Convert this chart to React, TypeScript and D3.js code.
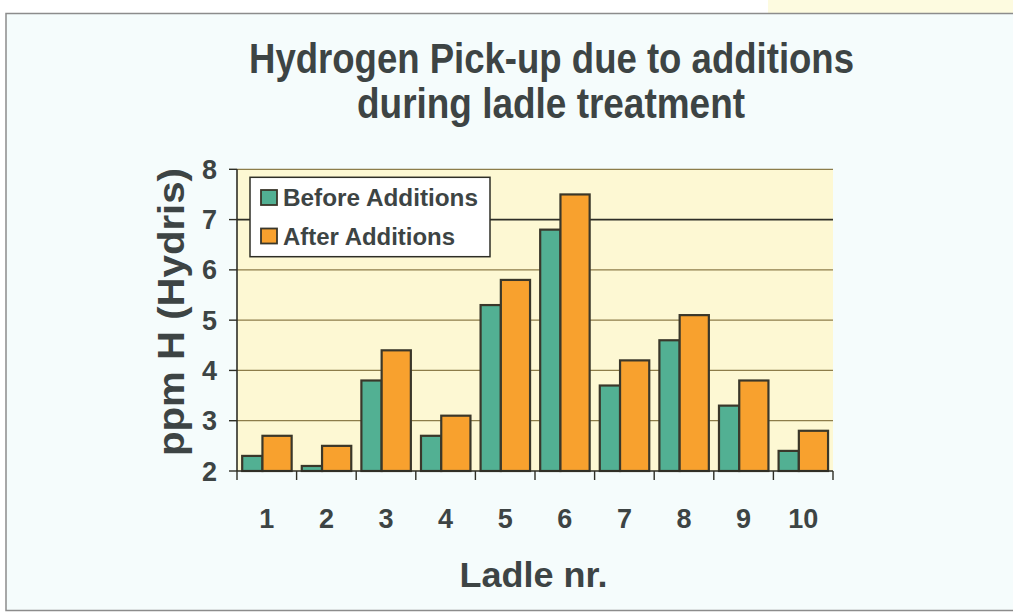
import React from "react";
import * as d3 from "d3";

const categories = ["1", "2", "3", "4", "5", "6", "7", "8", "9", "10"];
const beforeValues = [2.3, 2.1, 3.8, 2.7, 5.3, 6.8, 3.7, 4.6, 3.3, 2.4];
const afterValues = [2.7, 2.5, 4.4, 3.1, 5.8, 7.5, 4.2, 5.1, 3.8, 2.8];
const yTicks = [2, 3, 4, 5, 6, 7, 8];
const seriesNames = ["Before Additions", "After Additions"];
const titleLines = ["Hydrogen Pick-up due to additions", "during ladle treatment"];

const GREEN = "#52b093";
const ORANGE = "#f8a12e";
const TEXT = "#3d4444";
const EDGE = "#3a372a";

export default function App() {
  const x = d3.scaleBand<string>().domain(categories).range([237, 833]).padding(0);
  const y = d3.scaleLinear().domain([2, 8]).range([471, 169.3]);
  const bw = x.bandwidth();
  const font = "'Liberation Sans', Arial, sans-serif";

  return (
    <svg
      width={1013}
      height={612}
      style={{ position: "absolute", left: 0, top: 0, display: "block" }}
      fontFamily={font}
    >
      <rect x={0} y={0} width={1013} height={612} fill="#ffffff" />
      <rect x={768} y={0} width={245} height={13.5} fill="#fdfbe0" />
      <rect x={6} y={13.5} width={1020} height={597} fill="#f5fcfc" stroke="#8c8c8c" strokeWidth={1.5} />

      {/* title */}
      <text x={551.5} y={73} textAnchor="middle" fontSize={42} fontWeight="bold" fill={TEXT} textLength={605} lengthAdjust="spacingAndGlyphs">
        {titleLines[0]}
      </text>
      <text x={551} y={118} textAnchor="middle" fontSize={42} fontWeight="bold" fill={TEXT} textLength={388} lengthAdjust="spacingAndGlyphs">
        {titleLines[1]}
      </text>

      {/* plot area */}
      <rect x={x.range()[0]} y={y(8)} width={x.range()[1] - x.range()[0]} height={y(2) - y(8)} fill="#fdf8d3" />
      {yTicks.filter((t) => t > 2).map((t) => (
        <line
          key={"g" + t}
          x1={x.range()[0]}
          x2={x.range()[1]}
          y1={y(t)}
          y2={y(t)}
          stroke={t === 7 ? "#2e2e26" : "#8d7d4a"}
          strokeWidth={t === 7 ? 1.6 : 1.2}
        />
      ))}

      {/* bars */}
      {categories.map((c, i) => {
        const x0 = x(c) as number;
        return (
          <g key={"b" + c}>
            <rect x={x0 + bw * 0.087} y={y(beforeValues[i])} width={bw * 0.34} height={y(2) - y(beforeValues[i])} fill={GREEN} stroke={EDGE} strokeWidth={2.2} />
            <rect x={x0 + bw * 0.427} y={y(afterValues[i])} width={bw * 0.49} height={y(2) - y(afterValues[i])} fill={ORANGE} stroke={EDGE} strokeWidth={2.2} />
          </g>
        );
      })}

      {/* axes */}
      <line x1={x.range()[0]} x2={x.range()[0]} y1={y(8)} y2={y(2)} stroke="#2e2e26" strokeWidth={1.6} />
      <line x1={x.range()[0]} x2={x.range()[1]} y1={y(2)} y2={y(2)} stroke="#2e2e26" strokeWidth={1.6} />
      {yTicks.map((t) => (
        <g key={"yt" + t}>
          <line x1={x.range()[0] - 8} x2={x.range()[0]} y1={y(t)} y2={y(t)} stroke="#2e2e26" strokeWidth={1.4} />
          <text x={217} y={y(t) + 9.5} textAnchor="end" fontSize={27} fontWeight="bold" fill={TEXT}>
            {t}
          </text>
        </g>
      ))}
      {categories.concat(["end"]).map((c, i) => {
        const xx = x.range()[0] + i * bw;
        return <line key={"xt" + i} x1={xx} x2={xx} y1={y(2)} y2={y(2) + 9} stroke="#2e2e26" strokeWidth={1.4} />;
      })}
      {categories.map((c) => (
        <text key={"xl" + c} x={(x(c) as number) + bw / 2} y={528} textAnchor="middle" fontSize={27} fontWeight="bold" fill={TEXT}>
          {c}
        </text>
      ))}

      {/* axis titles */}
      <text x={533.5} y={587} textAnchor="middle" fontSize={35} fontWeight="bold" fill={TEXT} textLength={148} lengthAdjust="spacingAndGlyphs">
        Ladle nr.
      </text>
      <text transform="translate(184,312) rotate(-90)" textAnchor="middle" fontSize={36} fontWeight="bold" fill={TEXT} textLength={288} lengthAdjust="spacingAndGlyphs">
        ppm H (Hydris)
      </text>

      {/* legend */}
      <rect x={250} y={177.3} width={240} height={79.4} fill="#ffffff" stroke="#2e2e26" strokeWidth={1.5} />
      <rect x={261} y={190} width={16} height={15} fill={GREEN} stroke={EDGE} strokeWidth={1.8} />
      <rect x={261} y={228.5} width={16} height={15} fill={ORANGE} stroke={EDGE} strokeWidth={1.8} />
      <text x={283} y={206} fontSize={23} fontWeight="bold" fill={TEXT} textLength={195} lengthAdjust="spacingAndGlyphs">
        {seriesNames[0]}
      </text>
      <text x={283} y={245} fontSize={23} fontWeight="bold" fill={TEXT} textLength={172} lengthAdjust="spacingAndGlyphs">
        {seriesNames[1]}
      </text>
    </svg>
  );
}
